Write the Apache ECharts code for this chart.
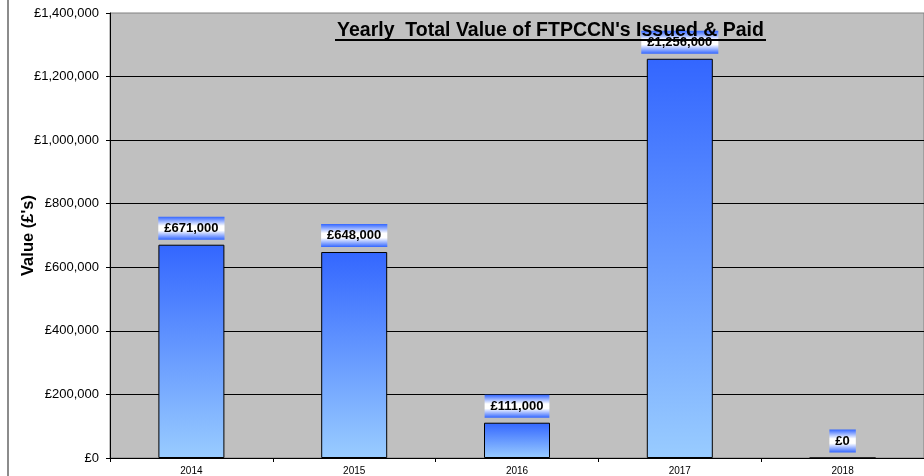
<!DOCTYPE html>
<html>
<head>
<meta charset="utf-8">
<script src="https://cdn.jsdelivr.net/npm/echarts@6/dist/echarts.min.js"></script>
<style>
  html, body { margin: 0; padding: 0; background: #ffffff; }
  #chart { width: 924px; height: 476px; }
</style>
</head>
<body>
<div id="chart"></div>
<script>
const categories = ['2014', '2015', '2016', '2017', '2018'];
const values = [671000, 648000, 111000, 1256000, 0];
const titleText = "Yearly  Total Value of FTPCCN's Issued & Paid";
const yAxisName = "Value (£'s)";

function money(v) {
  return '£' + String(Math.round(v)).replace(/\B(?=(\d{3})+(?!\d))/g, ',');
}

const chart = echarts.init(document.getElementById('chart'), null, { renderer: 'canvas' });

const option = {
  backgroundColor: '#ffffff',
  animation: false,
  grid: {
    left: 110, top: 13, bottom: 18, width: 820,
    show: true, backgroundColor: '#C0C0C0', borderColor: '#808080', borderWidth: 1,
    containLabel: false
  },
  xAxis: {
    type: 'category',
    data: categories,
    boundaryGap: true,
    axisLine: { show: true, lineStyle: { color: '#000', width: 1 } },
    axisTick: { show: true, length: 4, lineStyle: { color: '#000' } },
    axisLabel: { color: '#000', fontSize: 10, fontFamily: 'Liberation Sans, Arial', margin: 8 },
    splitLine: { show: false }
  },
  yAxis: {
    type: 'value',
    min: 0, max: 1400000, interval: 200000,
    name: yAxisName,
    nameLocation: 'middle',
    nameGap: 73,
    nameRotate: 90,
    nameMoveOverlap: false,
    nameTextStyle: { color: '#000', fontSize: 16.5, fontWeight: 'bold', fontFamily: 'Liberation Sans, Arial' },
    axisLine: { show: true, lineStyle: { color: '#000', width: 1 } },
    axisTick: { show: true, length: 4, lineStyle: { color: '#000' } },
    axisLabel: { color: '#000', fontSize: 13, fontFamily: 'Liberation Sans, Arial', margin: 11, formatter: money },
    splitLine: { show: true, showMaxLine: false, lineStyle: { color: '#000', width: 1 } }
  },
  series: [{
    type: 'bar',
    data: values,
    barWidth: 66,
    itemStyle: {
      color: new echarts.graphic.LinearGradient(0, 0, 0, 1, [
        { offset: 0, color: '#3366FF' },
        { offset: 1, color: '#99CCFF' }
      ]),
      borderColor: '#000',
      borderWidth: 1
    },
    label: {
      show: true,
      position: 'top',
      distance: 5,
      formatter: p => money(p.value),
      color: '#000',
      fontSize: 13,
      fontWeight: 'bold',
      fontFamily: 'Liberation Sans, Arial',
      lineHeight: 15,
      padding: [4, 6],
      backgroundColor: new echarts.graphic.LinearGradient(0, 0, 0, 1, [
        { offset: 0, color: '#3366FF' },
        { offset: 0.4, color: '#FFFFFF' },
        { offset: 0.6, color: '#FFFFFF' },
        { offset: 1, color: '#3366FF' }
      ])
    }
  }],
  graphic: [
    { type: 'line', shape: { x1: 8, y1: 0, x2: 8, y2: 476 }, style: { stroke: '#666', lineWidth: 1.5 }, z: 100 },
    { type: 'text', x: 550.5, y: 30.5, z: 100,
      style: { text: titleText, fill: '#000', fontSize: 19.5, fontWeight: 'bold', fontFamily: 'Liberation Sans, Arial',
               textAlign: 'center', textVerticalAlign: 'middle' } },
    { type: 'rect', shape: { x: 335, y: 39, width: 431, height: 2 }, style: { fill: '#000' }, z: 100 }
  ]
};
chart.setOption(option);
</script>
</body>
</html>
